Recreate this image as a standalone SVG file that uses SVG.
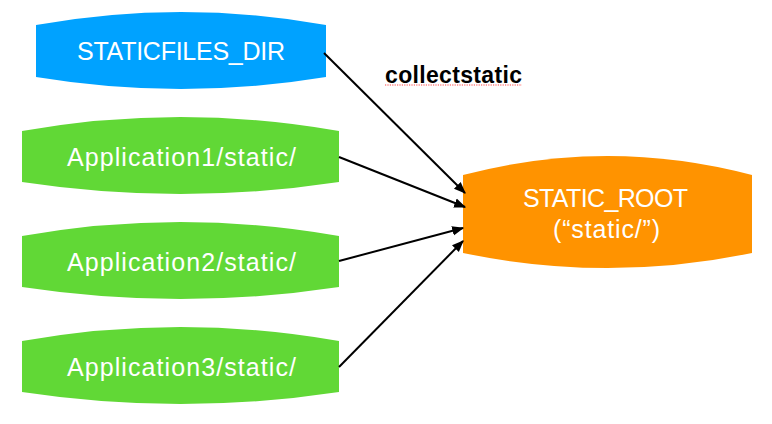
<svg xmlns="http://www.w3.org/2000/svg" width="772" height="424" viewBox="0 0 772 424">
<style>
.lbl{font-family:"Liberation Sans",Arial,Helvetica,sans-serif;font-size:25px;fill:#fff;text-anchor:middle}
.edge{stroke:#000;stroke-width:2;fill:none;marker-end:url(#ah)}
</style>
<defs>
<marker id="ah" viewBox="0 0 10 10" refX="9" refY="5" markerWidth="6" markerHeight="6" orient="auto" markerUnits="strokeWidth">
<path d="M0,1 L10,5 L0,9 Z" fill="#000"/>
</marker>
</defs>
<rect width="772" height="424" fill="#fff"/>
<g id="staticfiles_dir">
<path d="M36,25 Q181,-1 326,25 L326,77 Q181,101 36,77 Z" fill="#00A2FF"/>
<text class="lbl" x="181" y="60" textLength="208" lengthAdjust="spacing">STATICFILES_DIR</text>
</g>
<g id="app1">
<path d="M22,131 Q180.5,103 339,131 L339,182 Q180.5,206 22,182 Z" fill="#61D836"/>
<text class="lbl" x="181.5" y="166" textLength="229" lengthAdjust="spacing">Application1/static/</text>
</g>
<g id="app2">
<path d="M22,236 Q180.5,208 339,236 L339,287 Q180.5,311 22,287 Z" fill="#61D836"/>
<text class="lbl" x="181.5" y="271" textLength="229" lengthAdjust="spacing">Application2/static/</text>
</g>
<g id="app3">
<path d="M22,341 Q180.5,313 339,341 L339,392 Q180.5,416 22,392 Z" fill="#61D836"/>
<text class="lbl" x="181.5" y="376" textLength="229" lengthAdjust="spacing">Application3/static/</text>
</g>
<g id="static_root">
<path d="M463,175 Q607.5,137 752,175 L752,253 Q607.5,283 463,253 Z" fill="#FF9300"/>
<text class="lbl" x="605.5" y="207" textLength="165" lengthAdjust="spacing">STATIC_ROOT</text>
<text class="lbl" x="606.5" y="238" textLength="107" lengthAdjust="spacing">(“static/”)</text>
</g>
<g id="connectors">
<line class="edge" x1="324" y1="53" x2="465" y2="193"/>
<line class="edge" x1="339" y1="157" x2="465" y2="207"/>
<line class="edge" x1="339" y1="261" x2="463" y2="228"/>
<line class="edge" x1="339" y1="367" x2="463" y2="241"/>
</g>
<g id="label">
<text x="453.5" y="83" textLength="137" lengthAdjust="spacing" style="font-family:'Liberation Sans',Arial,sans-serif;font-size:23px;font-weight:bold;fill:#000;text-anchor:middle">collectstatic</text>
<line x1="385" y1="85" x2="522" y2="85" stroke="#f44" stroke-width="1.2" stroke-dasharray="1.2,1.2"/>
</g>
</svg>
